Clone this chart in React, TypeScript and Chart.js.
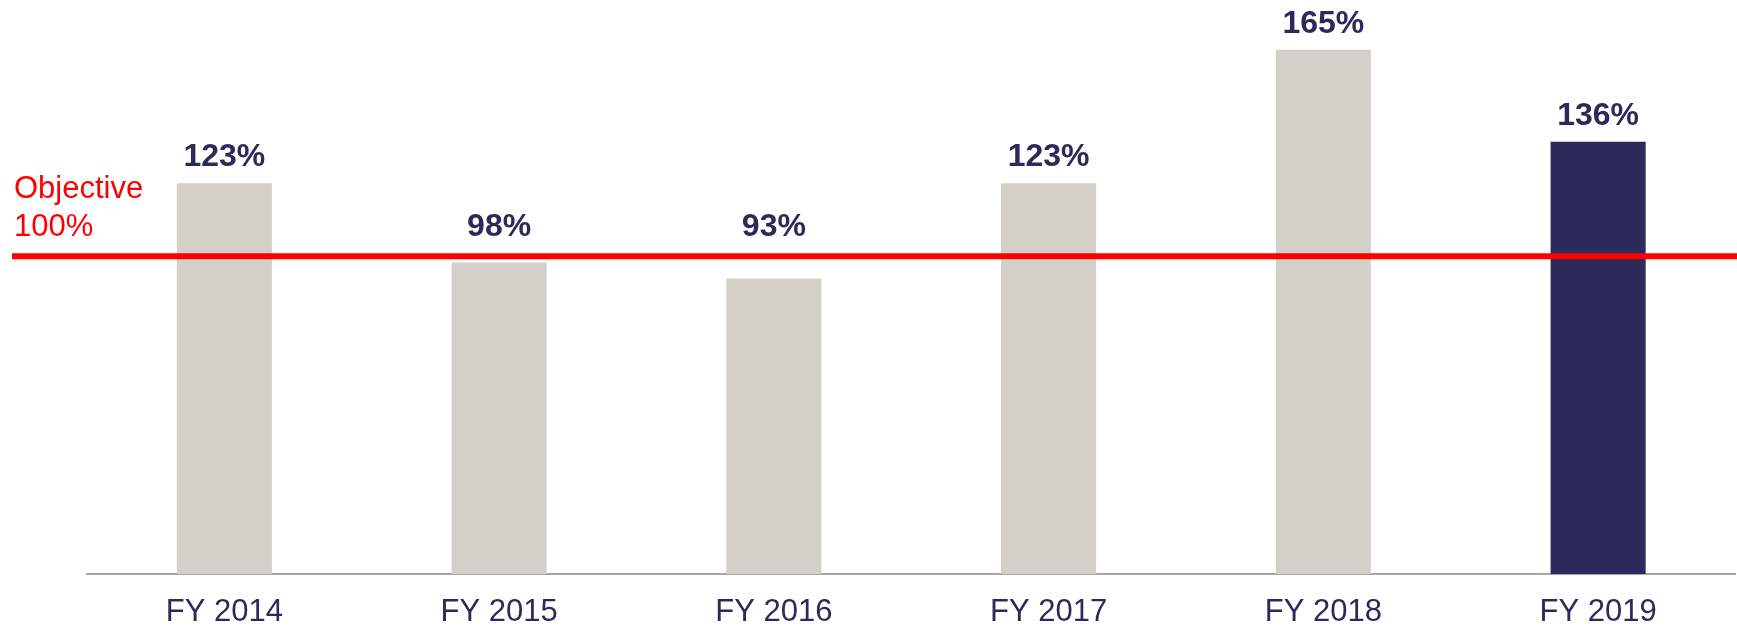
import React, { useEffect, useRef } from "react";
import { Chart, registerables } from "chart.js";

Chart.register(...registerables);

const categories: string[] = ["FY 2014", "FY 2015", "FY 2016", "FY 2017", "FY 2018", "FY 2019"];
const values: number[] = [123, 98, 93, 123, 165, 136];
const valueLabels: string[] = ["123%", "98%", "93%", "123%", "165%", "136%"];
const highlightIndex = 5;
const objectiveValue = 100;
const objectiveLabel: string[] = ["Objective", "100%"];

const GRAY = "#d3d0c9";
const NAVY = "#2b2a5b";
const RED = "#ff0000";
const FONT = "'Liberation Sans', Arial, sans-serif";

export default function App() {
  const ref = useRef<HTMLCanvasElement | null>(null);

  useEffect(() => {
    if (!ref.current) return;

    const overlay = {
      id: "overlay",
      afterDatasetsDraw(chart: any) {
        const ctx = chart.ctx;
        const yScale = chart.scales.y;
        const lineY = yScale.getPixelForValue(objectiveValue);
        ctx.save();
        // objective line
        ctx.strokeStyle = RED;
        ctx.lineWidth = 6;
        ctx.beginPath();
        ctx.moveTo(12, lineY);
        ctx.lineTo(chart.width, lineY);
        ctx.stroke();
        // objective label
        ctx.fillStyle = RED;
        ctx.font = `31px ${FONT}`;
        ctx.textAlign = "left";
        ctx.textBaseline = "alphabetic";
        ctx.fillText(objectiveLabel[0], 14, lineY - 58);
        ctx.fillText(objectiveLabel[1], 14, lineY - 20);
        // value labels
        const meta = chart.getDatasetMeta(0);
        ctx.fillStyle = NAVY;
        ctx.font = `bold 32px ${FONT}`;
        ctx.textAlign = "center";
        meta.data.forEach((bar: any, i: number) => {
          const top = Math.min(bar.y, lineY - 3);
          ctx.fillText(valueLabels[i], bar.x, top - 17);
        });
        ctx.restore();
      },
    };

    const chart = new Chart(ref.current, {
      type: "bar",
      data: {
        labels: categories,
        datasets: [
          {
            data: values,
            backgroundColor: values.map((_, i) => (i === highlightIndex ? NAVY : GRAY)),
            borderWidth: 0,
            categoryPercentage: 1,
            barPercentage: 0.346,
          },
        ],
      },
      options: {
        responsive: false,
        animation: false,
        layout: { padding: { left: 87, right: 1.5, top: 2, bottom: -23 } },
        plugins: {
          legend: { display: false },
          tooltip: { enabled: false },
          title: { display: false },
        },
        scales: {
          x: {
            grid: { display: false, drawTicks: false },
            border: { display: true, color: "#a6a6a6", width: 2 },
            ticks: {
              color: NAVY,
              font: { family: FONT, size: 31, lineHeight: 1 },
              padding: 23,
              maxRotation: 0,
              autoSkip: false,
            },
          },
          y: {
            display: false,
            min: 0,
            max: 180,
          },
        },
      },
      plugins: [overlay],
    });

    return () => chart.destroy();
  }, []);

  return (
    <div style={{ position: "absolute", left: 0, top: 0, width: 1737, height: 628, background: "#ffffff" }}>
      <canvas ref={ref} width={1737} height={628} style={{ display: "block" }} />
    </div>
  );
}
